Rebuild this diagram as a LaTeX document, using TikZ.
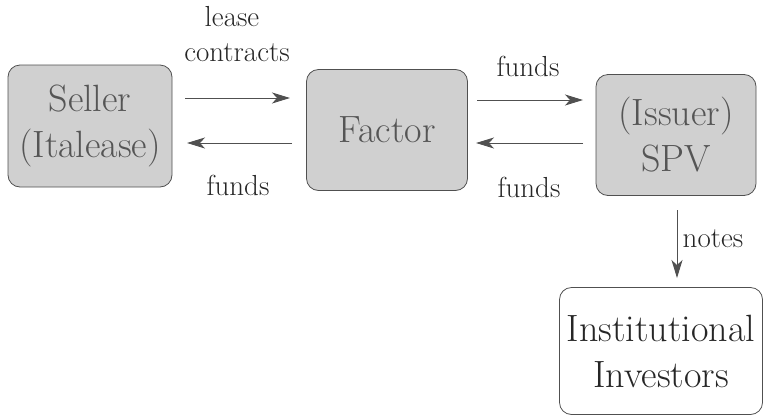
\documentclass[tikz,border=0pt]{standalone}
\usetikzlibrary{arrows.meta}
\definecolor{boxfill}{HTML}{D0D0D0}
\definecolor{boxtext}{HTML}{555555}
\definecolor{linegray}{HTML}{505050}
\tikzset{
  graybox/.style={draw=linegray, fill=boxfill, rounded corners=12pt, line width=0.8pt,
    text=boxtext, font=\fontsize{38}{46}\selectfont, align=center, inner sep=0pt},
  whitebox/.style={draw=linegray, fill=white, rounded corners=12pt, line width=0.8pt,
    text=black!85, font=\fontsize{38}{46}\selectfont, align=center, inner sep=0pt},
  flow/.style={draw=linegray, line width=1pt, -{Stealth[length=18pt,width=11pt,inset=5pt]}},
  lbl/.style={font=\fontsize{29}{32}\selectfont, text=black!85, inner sep=0pt}
}
\begin{document}
\begin{tikzpicture}[x=1pt,y=-1pt]
\useasboundingbox (0,0) rectangle (767,418);
\node[graybox, minimum width=164pt, minimum height=122pt] (seller) at (90,126) {Seller\\(Italease)};
\node[graybox, minimum width=161pt, minimum height=121pt] (factor) at (387,130) {Factor};
\node[graybox, minimum width=160pt, minimum height=121pt] (spv) at (676,135) {(Issuer)\\SPV};
\node[whitebox, minimum width=203pt, minimum height=127pt] (inv) at (661,351) {Institutional\\Investors};
\coordinate (a1) at (185,98); \coordinate (a2) at (290,98);
\coordinate (b1) at (292,143); \coordinate (b2) at (187,143);
\coordinate (c1) at (477,100); \coordinate (c2) at (583,100);
\coordinate (d1) at (583,143); \coordinate (d2) at (476,143);
\coordinate (e1) at (677,210); \coordinate (e2) at (677,278);
\draw[flow] (a1) -- (a2);
\draw[flow] (b1) -- (b2);
\draw[flow] (c1) -- (c2);
\draw[flow] (d1) -- (d2);
\draw[flow] (e1) -- (e2);
\node[lbl] (l1) at (232,17) {lease};
\node[lbl] (l2) at (237,53) {contracts};
\node[lbl] (l3) at (238,185) {funds};
\node[lbl] (l4) at (528,66) {funds};
\node[lbl] (l5) at (529,187) {funds};
\node[lbl] (l6) at (713,239) {notes};
\end{tikzpicture}
\end{document}
